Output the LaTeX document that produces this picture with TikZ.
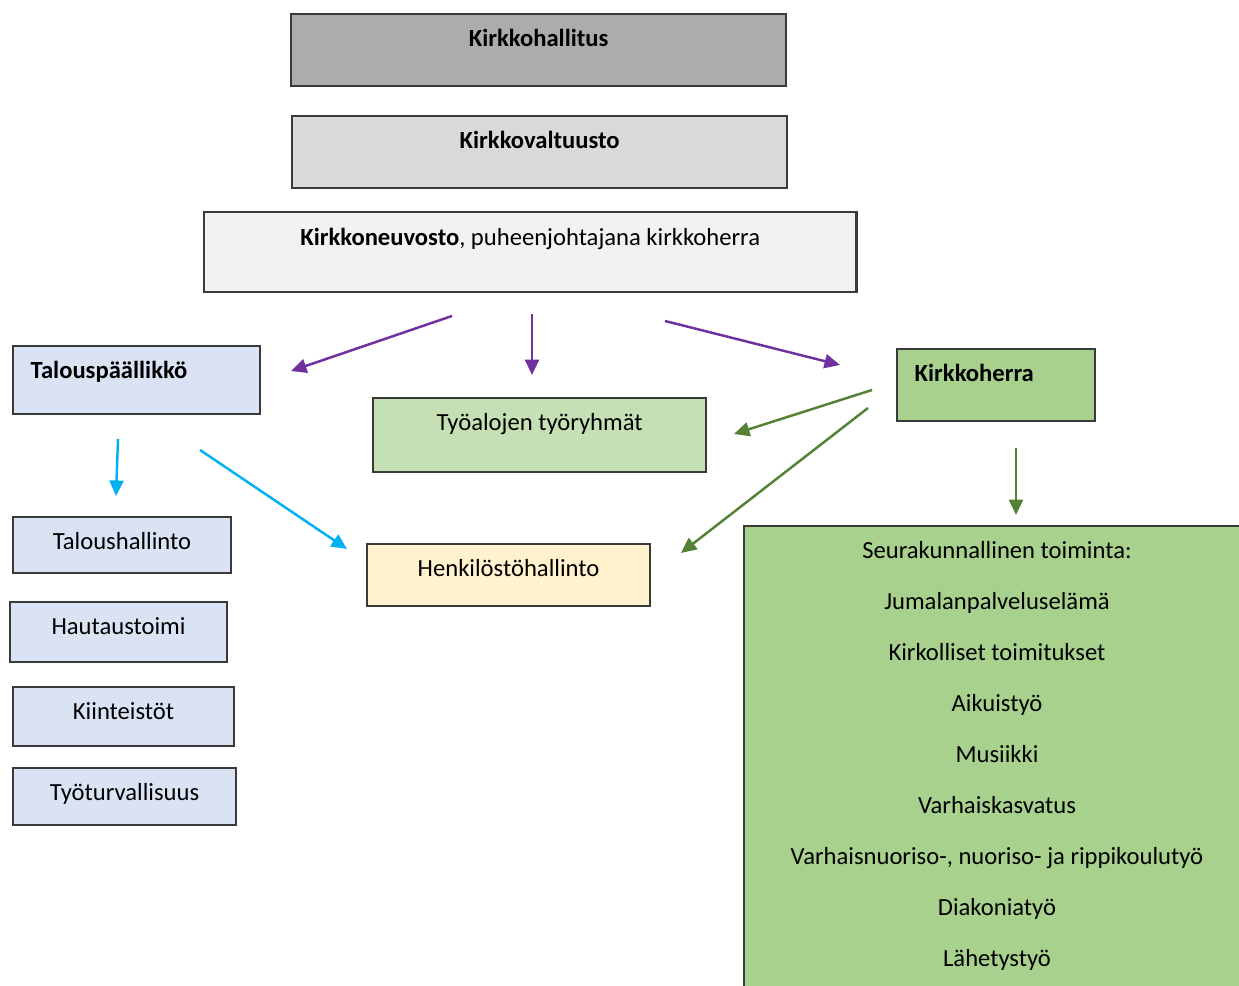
\documentclass[tikz,border=0pt]{standalone}
\usepackage{fontspec}
\setmainfont{Carlito}
\usetikzlibrary{arrows.meta}
\definecolor{kkline}{RGB}{58,58,58}
\definecolor{hallitus}{RGB}{174,171,171}
\definecolor{valtuusto}{RGB}{217,217,217}
\definecolor{neuvosto}{RGB}{242,242,242}
\definecolor{talous}{RGB}{218,227,243}
\definecolor{vihrea}{RGB}{197,224,180}
\definecolor{tumma}{RGB}{169,209,142}
\definecolor{keltainen}{RGB}{255,242,204}
\definecolor{violetti}{RGB}{112,48,160}
\definecolor{syaani}{RGB}{0,176,240}
\definecolor{oliivi}{RGB}{84,130,53}
\begin{document}
\begin{tikzpicture}[x=0.01cm,y=-0.01cm,
    box/.style={draw=kkline,line width=0.65pt,inner sep=0pt,outer sep=0pt,anchor=north west},
    lbl/.style={inner sep=0pt,anchor=base,font=\fontsize{7}{8.4}\selectfont},
    tip/.style={-{Triangle[length=4.4pt,width=4pt]},line width=0.7pt}]
        \useasboundingbox (0,0) rectangle (1239,986);
        \clip (0,0) rectangle (1239,986);
        \node[box,fill=hallitus,minimum width=4.95cm,minimum height=0.72cm] (hallitus) at (291,14) {};
        \node[box,fill=valtuusto,minimum width=4.95cm,minimum height=0.72cm] (valtuusto) at (292,116) {};
        \node[box,fill=neuvosto,minimum width=6.52cm,minimum height=0.80cm] (neuvosto) at (204,212) {};
        \node[box,fill=talous,minimum width=2.47cm,minimum height=0.68cm] (talous) at (13,346) {};
        \node[box,fill=vihrea,minimum width=3.33cm,minimum height=0.74cm] (tyoalat) at (373,398) {};
        \node[box,fill=tumma,minimum width=1.98cm,minimum height=0.72cm] (kirkkoherra) at (897,349) {};
        \node[box,fill=talous,minimum width=2.18cm,minimum height=0.56cm] (taloushallinto) at (13,517) {};
        \node[box,fill=talous,minimum width=2.17cm,minimum height=0.60cm] (hautaus) at (10,602) {};
        \node[box,fill=talous,minimum width=2.21cm,minimum height=0.59cm] (kiinteistot) at (13,687) {};
        \node[box,fill=talous,minimum width=2.23cm,minimum height=0.57cm] (tyoturva) at (13,768) {};
        \node[box,fill=keltainen,minimum width=2.83cm,minimum height=0.62cm] (henkilosto) at (367,544) {};
        \node[box,fill=tumma,minimum width=5.10cm,minimum height=4.70cm] (toiminta) at (744,526) {};

        \node[lbl] (hallitus-t) at ([yshift=-0.32cm]hallitus.north) {\bfseries Kirkkohallitus};
        \node[lbl] (valtuusto-t) at ([yshift=-0.32cm]valtuusto.north) {\bfseries Kirkkovaltuusto};
        \node[lbl] (neuvosto-t) at ([yshift=-0.33cm]neuvosto.north) {\textbf{Kirkkoneuvosto}, puheenjohtajana kirkkoherra};
        \node[lbl,anchor=base west] (talous-t) at ([shift={(0.17cm,-0.32cm)}]talous.north west) {\bfseries Talouspäällikkö};
        \node[lbl,anchor=base west] (kirkkoherra-t) at ([shift={(0.17cm,-0.32cm)}]kirkkoherra.north west) {\bfseries Kirkkoherra};
        \node[lbl] (tyoalat-t) at ([yshift=-0.32cm]tyoalat.north) {Työalojen työryhmät};
        \node[lbl] (henkilosto-t) at ([yshift=-0.32cm]henkilosto.north) {Henkilöstöhallinto};
        \node[lbl] (taloushallinto-t) at ([yshift=-0.32cm]taloushallinto.north) {Taloushallinto};
        \node[lbl] (hautaus-t) at ([yshift=-0.32cm]hautaus.north) {Hautaustoimi};
        \node[lbl] (kiinteistot-t) at ([yshift=-0.32cm]kiinteistot.north) {Kiinteistöt};
        \node[lbl] (tyoturva-t) at ([yshift=-0.32cm]tyoturva.north) {Työturvallisuus};
        \foreach \t [count=\i] in {Seurakunnallinen toiminta:,Jumalanpalveluselämä,Kirkolliset toimitukset,Aikuistyö,Musiikki,Varhaiskasvatus,{Varhaisnuoriso-, nuoriso- ja rippikoulutyö},Diakoniatyö,Lähetystyö}
            \node[lbl] (toiminta-\i) at (997,{559+51*(\i-1)}) {\t};

        \coordinate (nv-a) at (452,316); \coordinate (nv-a') at (291,371);
        \coordinate (nv-b) at (532,314); \coordinate (nv-b') at (532,375);
        \coordinate (nv-c) at (665,321); \coordinate (nv-c') at (840,365);
        \coordinate (tp-a) at (118,439); \coordinate (tp-a') at (116,496);
        \coordinate (tp-b) at (200,450); \coordinate (tp-b') at (347,549);
        \coordinate (kh-a) at (872,390); \coordinate (kh-a') at (734,434);
        \coordinate (kh-b) at (868,408); \coordinate (kh-b') at (681,553);
        \coordinate (kh-c) at (1016,448); \coordinate (kh-c') at (1016,515);

        \draw[tip,violetti] (nv-a)--(nv-a');
        \draw[tip,violetti] (nv-b)--(nv-b');
        \draw[tip,violetti] (nv-c)--(nv-c');
        \draw[tip,syaani] (tp-a)--(tp-a');
        \draw[tip,syaani] (tp-b)--(tp-b');
        \draw[tip,oliivi] (kh-a)--(kh-a');
        \draw[tip,oliivi] (kh-b)--(kh-b');
        \draw[tip,oliivi] (kh-c)--(kh-c');
\end{tikzpicture}
\end{document}
